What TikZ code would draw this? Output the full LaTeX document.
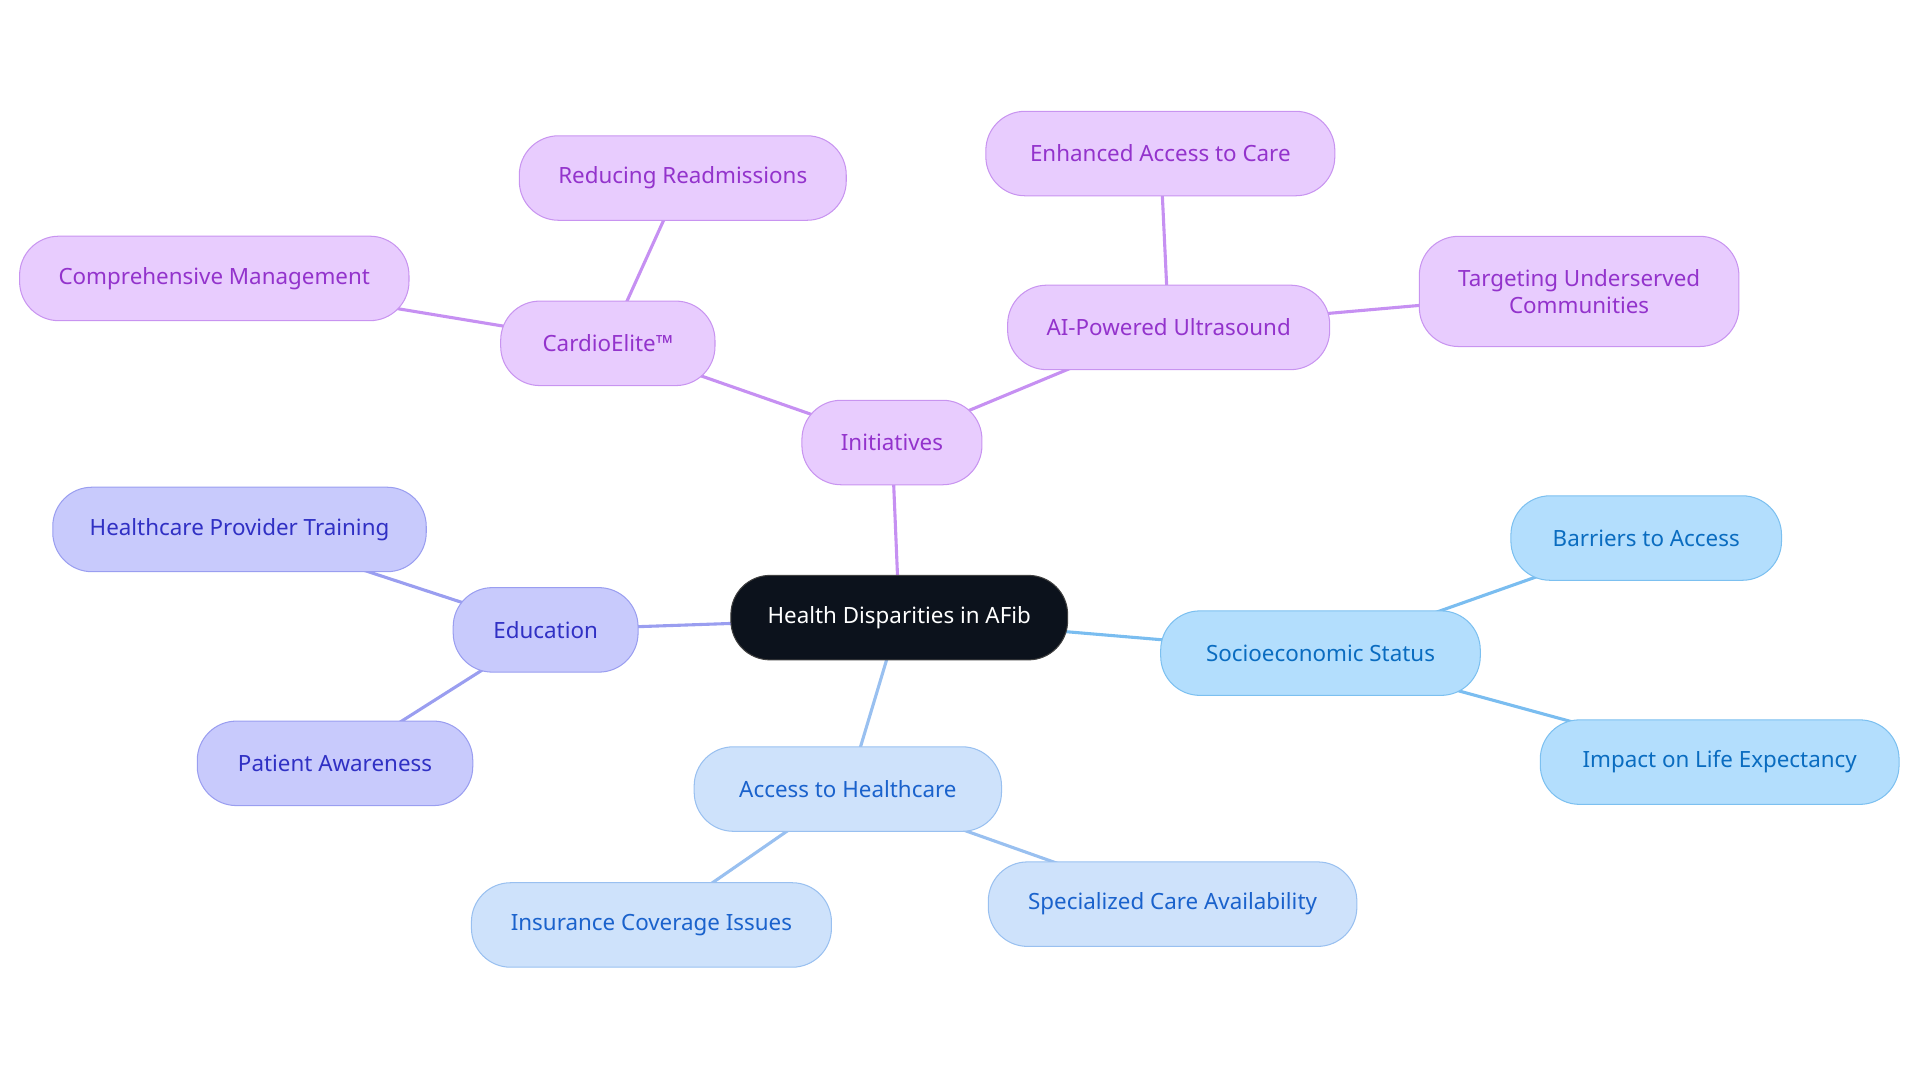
\documentclass[tikz,border=0pt]{standalone}
\usepackage{fontspec}
\setmainfont{Noto Sans}
\usepackage{tikz}
\usetikzlibrary{positioning,calc,backgrounds}

\definecolor{rootfill}{HTML}{0C121C}
\definecolor{purpfill}{HTML}{E8CCFE}
\definecolor{purpdraw}{HTML}{C894F0}
\definecolor{purptext}{HTML}{9333CC}
\definecolor{purpline}{HTML}{C690F2}
\definecolor{indfill}{HTML}{C8CAFC}
\definecolor{inddraw}{HTML}{9A9EF0}
\definecolor{indtext}{HTML}{3030C4}
\definecolor{indline}{HTML}{9A9EF0}
\definecolor{skyfill}{HTML}{B3DEFD}
\definecolor{skydraw}{HTML}{7CC0F0}
\definecolor{skytext}{HTML}{0A6CC0}
\definecolor{skyline}{HTML}{7ABDF0}
\definecolor{bluefill}{HTML}{CEE2FB}
\definecolor{bluedraw}{HTML}{99C0F0}
\definecolor{bluetext}{HTML}{1A62CC}
\definecolor{blueline}{HTML}{99C0F0}

\begin{document}
\begin{tikzpicture}[
  every node/.style={font=\fontsize{13pt}{16pt}\selectfont, align=center,
    rounded corners=0.8cm, minimum height=1.725cm, inner xsep=0.4cm, line width=0.6pt},
  rootbox/.style={fill=rootfill, draw=black!75, text=white},
  purpbox/.style={fill=purpfill, draw=purpdraw, text=purptext},
  indbox/.style={fill=indfill, draw=inddraw, text=indtext},
  skybox/.style={fill=skyfill, draw=skydraw, text=skytext},
  bluebox/.style={fill=bluefill, draw=bluedraw, text=bluetext},
  link/.style={line width=1.8pt}
  ]
  \useasboundingbox (0,0) rectangle (39.2,22.11);

  \node (root) [rootbox, minimum width=6.875cm] at (18.36,9.5) {Health Disparities in AFib};

  % initiatives branch
  \node (init) [purpbox, minimum width=3.675cm] at (18.21,13.075) {Initiatives};
  \node (cardio) [purpbox, minimum width=4.375cm] at (12.41,15.1) {CardioElite™};
  \node (readm) [purpbox, minimum width=6.675cm] at (13.94,18.475) {Reducing Readmissions};
  \node (compr) [purpbox, minimum width=7.95cm] at (4.375,16.425) {Comprehensive Management};
  \node (aiultra) [purpbox, minimum width=6.575cm] at (23.86,15.425) {AI-Powered Ultrasound};
  \node (enhanced) [purpbox, minimum width=7.125cm] at (23.69,18.975) {Enhanced Access to Care};
  \node (target) [purpbox, minimum width=6.525cm, minimum height=2.25cm] at (32.24,16.16) {Targeting Underserved\\Communities};

  % education branch
  \node (edu) [indbox, minimum width=3.775cm] at (11.14,9.25) {Education};
  \node (train) [indbox, minimum width=7.625cm] at (4.89,11.3) {Healthcare Provider Training};
  \node (aware) [indbox, minimum width=5.625cm] at (6.84,6.525) {Patient Awareness};

  % access branch
  \node (access) [bluebox, minimum width=6.275cm] at (17.31,6.0) {Access to Healthcare};
  \node (insur) [bluebox, minimum width=7.35cm] at (13.3,3.225) {Insurance Coverage Issues};
  \node (special) [bluebox, minimum width=7.525cm] at (23.94,3.65) {Specialized Care Availability};

  % socioeconomic branch
  \node (socio) [skybox, minimum width=6.525cm] at (26.96,8.775) {Socioeconomic Status};
  \node (barrier) [skybox, minimum width=5.525cm] at (33.61,11.125) {Barriers to Access};
  \node (life) [skybox, minimum width=7.325cm] at (35.11,6.55) {Impact on Life Expectancy};

  \begin{scope}[on background layer]
  \path [link, draw=purpline]
  (root.center) edge (init.center)
  (init.center) edge (cardio.center)
  (cardio.center) edge (readm.center)
  (cardio.center) edge (compr.center)
  (init.center) edge (aiultra.center)
  (aiultra.center) edge (enhanced.center)
  (aiultra.center) edge (target.center);
  \path [link, draw=indline]
  (root.center) edge (edu.center)
  (edu.center) edge (train.center)
  (edu.center) edge (aware.center);
  \path [link, draw=blueline]
  (root.center) edge (access.center)
  (access.center) edge (insur.center)
  (access.center) edge (special.center);
  \path [link, draw=skyline]
  (root.center) edge (socio.center)
  (socio.center) edge (barrier.center)
  (socio.center) edge (life.center);
  \end{scope}
\end{tikzpicture}
\end{document}
